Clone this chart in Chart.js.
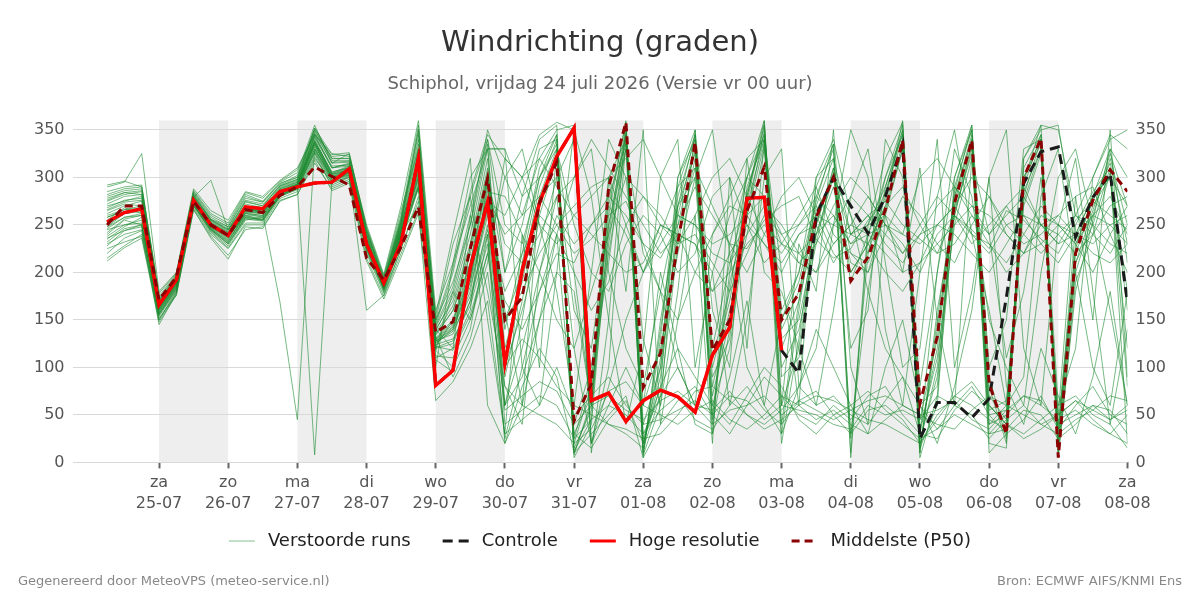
<!DOCTYPE html>
<html lang="nl">
<head>
<meta charset="utf-8">
<title>Windrichting (graden)</title>
<script src="https://cdn.jsdelivr.net/npm/chart.js@4.4.1/dist/chart.umd.min.js"></script>
<style>
    html, body { margin: 0; padding: 0; background: #fff; }
    #wrap { position: relative; width: 1200px; height: 600px; }
    .voet { position: absolute; top: 573px; font: 13px 'DejaVu Sans', sans-serif; color: #888; }
    #voetL { left: 18px; }
    #voetR { right: 18px; }
</style>
</head>
<body>
<div id="wrap">
    <canvas id="chartWind"></canvas>
    <div class="voet" id="voetL">Gegenereerd door MeteoVPS (meteo-service.nl)</div>
    <div class="voet" id="voetR">Bron: ECMWF AIFS/KNMI Ens</div>
</div>
<script>
'use strict';

/* ── Tijdas: dagen vanaf za 25-07 00 uur, stappen van 6 uur ── */
var START_DAG = -0.75;          // vr 24-07 06 uur
var STAP_DAG  = 0.25;
var TICK_DAGEN = [0, 1, 2, 3, 4, 5, 6, 7, 8, 9, 10, 11, 12, 13, 14];
var TICK_DAGNAMEN = ['za', 'zo', 'ma', 'di', 'wo', 'do', 'vr', 'za', 'zo', 'ma', 'di', 'wo', 'do', 'vr', 'za'];
var TICK_DATUMS = ['25-07', '26-07', '27-07', '28-07', '29-07', '30-07', '31-07', '01-08',
                   '02-08', '03-08', '04-08', '05-08', '06-08', '07-08', '08-08'];
var GRIJZE_DAGEN = [0, 2, 4, 6, 8, 10, 12];   // begin van gearceerde dagen
var Y_TICKS = [0, 50, 100, 150, 200, 250, 300, 350];

/* ── Hoge resolutie (tot ma 03-08 00 uur) ── */
var HOGE_RES = [253, 263, 267, 166, 192, 276, 250, 239, 269, 267, 285, 290, 294, 295, 309, 230,
                189, 231, 320, 81, 97, 205, 274, 104, 202, 273, 322, 352, 65, 73, 43, 65,
                76, 69, 53, 113, 142, 278, 279, 118];

/* ── Controle ── */
var CONTROLE = [253, 263, 267, 166, 192, 276, 250, 239, 269, 267, 285, 290, 294, 295, 309, 230,
                189, 231, 320, 81, 97, 205, 274, 104, 202, 273, 322, 352, 65, 73, 43, 65,
                76, 69, 53, 113, 142, 278, 279, 118, 94, 260, 300, 270, 241, 280, 335, 25,
                63, 63, 47, 67, 174, 294, 327, 332, 237, 279, 304, 168];

/* ── Middelste (P50) ── */
var P50 = [250, 270, 270, 171, 195, 275, 250, 239, 266, 263, 281, 290, 311, 301, 292, 215,
           192, 227, 269, 137, 148, 225, 299, 150, 174, 273, 316, 44, 83, 290, 358, 79,
           115, 231, 337, 118, 150, 265, 311, 150, 178, 258, 300, 191, 216, 266, 339, 62,
           132, 273, 339, 83, 30, 300, 341, 5, 220, 276, 308, 285];

/* ── Verstoorde runs (ensembleleden) ── */
var LID_01 = [262,270,275,160,185,278,250,240,270,262,288,295,340,305,312,232,185,245,310,125,140,190,290,
              150,200,290,340,10,60,230,350,20,90,250,330,40,140,280,355,60,120,250,310,30,180,290,345,15,140,270,335,40,60,280,340,10,200,260,320,250];
var LID_02 = [240,255,250,150,180,270,245,230,258,255,280,290,345,310,315,240,180,230,330,110,120,160,300,
              40,55,70,60,25,45,60,50,30,55,70,45,35,60,80,55,40,65,75,50,30,55,60,45,20,50,70,60,45,35,55,50,25,40,60,55,30];
var LID_03 = [275,282,285,170,195,282,255,245,275,270,292,300,350,320,320,245,190,255,340,140,170,230,320,
              110,210,300,345,20,80,270,358,15,110,280,340,100,170,270,340,140,180,260,300,200,230,270,335,30,120,280,345,60,40,300,335,20,220,270,300,180];
var LID_04 = [230,240,245,145,178,268,240,225,250,250,278,285,320,295,300,220,178,225,280,118,100,140,240,
              20,80,120,90,10,30,50,70,5,40,65,80,50,30,60,90,70,50,40,60,45,70,80,50,30,25,55,75,60,40,30,45,60,70,50,40,15];
var LID_05 = [285,290,292,175,198,285,260,250,282,275,295,305,355,315,325,248,195,260,355,150,190,250,350,
              300,260,320,350,355,20,100,340,10,130,300,350,50,200,300,360,30,160,280,330,5,240,300,355,60,80,290,350,10,30,320,350,355,240,280,330,300];
var LID_06 = [250,262,268,165,190,275,248,236,262,260,285,290,335,300,305,230,186,240,300,130,145,200,280,
              240,260,280,250,220,235,260,275,230,215,250,290,260,230,225,255,270,280,235,215,225,255,275,250,235,220,260,245,225,265,255,235,220,255,275,260,245];
var LID_07 = [215,228,240,155,182,272,243,228,255,258,282,288,325,290,298,225,182,236,295,135,160,210,300,
              200,280,300,330,250,200,180,230,260,240,200,220,280,300,250,210,230,260,290,240,220,200,240,280,260,230,210,250,280,240,220,260,250,230,200,240,270];
var LID_08 = [270,275,280,168,192,276,252,242,268,262,168,45,330,300,310,235,188,250,315,128,135,180,270,
              60,90,150,200,180,60,40,30,15,70,100,60,55,75,50,40,55,80,60,70,50,40,65,90,60,35,50,40,30,50,70,60,45,55,40,30,50];
var LID_09 = [245,250,255,162,188,274,247,238,260,255,283,290,8,295,305,228,184,238,305,122,150,195,285,
              280,240,200,150,120,180,240,300,280,250,230,260,300,320,280,240,220,250,270,230,250,280,250,220,240,270,290,260,230,210,240,270,250,230,260,280,240];
var LID_10 = [290,295,325,180,200,288,265,255,285,280,297,310,345,325,322,250,198,270,360,160,210,270,330,
              330,280,340,355,5,40,250,345,30,70,230,320,60,120,260,350,130,150,240,300,260,220,280,350,10,160,260,330,80,20,290,345,15,210,250,310,20];
var LID_11 = [255,268,262,160,186,279,297,245,268,268,286,293,338,306,310,236,190,248,320,132,90,130,200,
              60,120,200,260,230,250,270,240,200,230,260,250,220,210,240,270,250,220,200,250,280,260,230,210,240,250,270,240,220,250,260,230,210,240,260,250,230];
var LID_12 = [225,232,238,152,176,266,238,218,245,248,275,282,315,288,296,215,175,220,265,65,85,120,170,
              30,45,60,100,50,70,90,60,40,45,55,65,50,70,65,45,60,55,50,40,35,60,50,55,45,70,60,50,25,45,60,40,50,65,55,45,60];
var LID_13 = [265,272,270,166,191,275,249,239,266,264,287,294,342,310,314,234,187,244,312,138,175,240,330,
              120,190,280,330,30,70,240,355,5,150,260,335,110,180,285,345,120,170,250,305,190,240,285,340,20,100,275,340,50,55,285,330,25,230,275,315,230];
var LID_14 = [235,248,258,158,184,273,246,232,262,258,282,289,330,300,302,160,176,225,275,112,110,150,210,
              320,300,250,230,260,280,300,250,200,240,290,310,270,230,200,240,280,300,260,220,200,230,270,290,250,220,230,260,240,270,290,250,230,240,280,300,270];
var LID_15 = [280,286,288,172,196,283,256,246,276,272,291,298,350,318,318,242,192,258,345,145,200,280,340,
              250,230,300,335,15,55,300,340,40,100,240,310,80,160,240,330,150,190,270,320,240,250,290,350,5,70,265,325,70,45,300,340,5,190,240,305,80];
var LID_16 = [248,258,262,162,188,276,250,238,264,262,284,292,336,302,308,230,186,242,305,128,140,185,260,
              180,220,260,240,200,160,190,250,280,260,230,240,210,180,220,260,240,250,280,260,230,240,250,230,200,240,260,230,250,270,240,220,240,260,250,230,220];
var LID_17 = [260,266,270,164,190,277,251,240,266,265,286,293,339,304,311,233,188,246,310,130,148,205,295,
              230,210,240,280,300,340,310,280,250,220,240,230,200,260,300,280,240,210,230,270,300,280,250,240,230,250,270,300,280,250,230,240,260,280,290,240,200];
var LID_18 = [220,236,244,150,178,270,242,226,252,252,280,287,322,292,300,222,180,232,290,120,125,170,250,
              80,60,50,40,20,35,75,85,60,50,40,55,65,45,35,50,70,60,45,55,40,30,45,60,50,40,35,55,70,60,50,40,30,45,55,70,65];
var LID_19 = [272,280,282,170,194,280,254,244,272,268,290,297,348,315,316,240,190,252,330,142,180,250,335,
              90,170,270,325,25,90,210,345,60,120,220,300,70,150,275,355,100,140,230,310,220,210,260,330,45,130,285,355,30,35,270,325,35,210,265,325,270];
var LID_20 = [252,262,266,163,189,276,250,238,264,263,285,292,337,303,309,231,187,243,308,129,143,195,275,
              260,300,320,290,260,240,220,200,210,250,240,200,180,200,230,250,230,210,200,230,250,240,220,200,210,230,250,270,260,240,220,230,250,240,220,210,230];
var LID_21 = [242,256,260,158,186,274,247,235,260,259,283,290,332,298,305,228,185,240,298,126,138,175,245,
              170,140,180,220,210,250,280,260,230,180,150,200,240,270,260,230,200,240,260,250,240,230,200,180,210,250,240,220,200,230,260,250,240,220,240,270,280];
var LID_22 = [268,276,278,167,193,279,253,243,270,266,289,296,344,312,313,238,189,250,325,136,165,225,310,
              140,220,310,345,8,65,260,360,25,80,290,345,90,130,290,340,160,200,275,335,25,220,300,345,10,150,280,340,90,25,310,345,30,250,285,310,160];
var LID_23 = [238,250,252,156,183,272,245,233,258,256,281,289,328,297,303,226,183,237,292,124,130,165,230,
              25,100,180,240,30,15,45,65,20,80,120,90,60,40,70,100,80,45,30,50,60,75,55,40,25,35,60,80,50,30,45,70,35,60,80,50,40];
var LID_24 = [278,284,286,171,195,281,255,245,274,270,291,298,346,316,317,241,191,254,335,144,185,260,340,
              200,250,330,340,12,45,280,335,8,60,270,325,45,190,260,335,20,130,265,300,240,260,275,360,35,110,250,320,40,50,295,355,8,180,255,330,210];
var LID_25 = [258,266,268,164,190,277,250,240,266,264,286,293,338,304,310,233,187,245,312,131,150,210,300,
              100,160,230,300,340,20,80,150,200,250,240,230,180,220,250,230,210,240,250,210,240,260,240,220,250,280,260,240,230,200,220,250,260,240,230,250,260];
var LID_26 = [228,244,248,154,180,270,244,230,256,254,280,288,326,294,301,224,182,234,288,121,128,170,240,
              55,70,85,75,40,60,70,55,45,65,75,60,40,55,60,70,50,65,55,45,55,65,70,60,50,55,65,45,35,55,70,65,40,50,60,45,55];
var LID_27 = [266,274,276,166,192,278,252,242,268,266,288,295,343,310,312,236,188,248,318,134,160,220,305,
              60,150,260,320,40,100,220,330,10,140,270,345,120,210,280,360,90,110,240,290,210,200,265,330,25,90,260,335,55,65,275,330,40,225,280,300,120];
var LID_28 = [246,258,260,160,187,275,248,237,262,260,284,291,334,300,306,229,186,241,302,127,142,190,265,
              150,180,220,250,270,290,300,320,340,300,260,250,230,240,260,280,230,220,240,260,230,250,260,240,300,320,290,270,240,260,280,250,230,260,240,220,250];
var LID_29 = [282,288,290,173,197,284,258,248,278,274,293,302,352,320,320,244,194,256,350,148,205,285,345,
              320,300,345,358,350,10,150,355,20,100,300,340,30,230,300,345,40,170,290,335,10,250,320,358,15,60,300,350,20,15,320,355,350,260,300,340,350];
var LID_30 = [232,246,250,156,182,271,245,231,257,255,281,289,327,296,302,225,183,236,290,122,118,155,220,
              100,130,110,80,60,50,40,35,25,30,50,75,80,65,50,35,45,60,70,65,55,45,40,30,20,45,70,85,60,40,25,35,50,65,45,30,20];
var LID_31 = [258,264,266,163,189,276,250,239,265,263,285,292,336,303,308,232,186,243,290,150,230,280,150,
              30,240,100,330,200,60,300,180,350,40,150,260,20,300,120,340,60,230,180,350,100,40,260,200,310,150,60,320,240,110,180,300,50,280,150,350,90];
var LID_32 = [236,244,250,157,184,273,246,234,259,257,282,289,330,298,304,228,184,239,300,100,210,300,330,
              330,100,60,200,350,280,150,40,120,300,340,100,200,60,150,300,330,80,120,250,350,300,140,60,200,340,100,180,300,350,120,60,250,320,180,40,140];
var LID_33 = [292,296,290,178,199,286,262,252,284,278,296,308,346,322,324,246,196,265,330,155,240,320,60,
              20,60,150,240,300,330,200,120,80,180,270,300,350,220,100,60,150,200,300,340,260,180,120,90,30,200,330,280,150,100,60,200,300,330,250,160,60];
var LID_34 = [212,226,236,148,176,266,236,214,248,246,276,282,318,286,294,212,172,216,262,108,95,230,300,
              160,60,280,300,160,120,250,330,220,180,100,60,240,280,320,200,180,120,60,160,280,330,210,100,120,280,350,240,160,60,90,280,330,200,100,60,180];
var LID_35 = [276,284,282,169,193,280,256,248,280,274,294,300,352,324,326,244,192,252,350,118,180,150,220,
              300,330,250,180,60,200,340,300,130,60,180,350,160,100,320,340,200,60,300,320,120,160,340,300,80,200,300,355,100,150,330,340,60,120,300,345,330];
var LID_36 = [248,262,264,161,187,275,249,237,263,262,284,291,334,301,307,230,186,241,270,140,120,260,180,
              80,40,200,280,120,20,60,100,60,200,120,40,30,90,170,60,30,80,140,100,60,30,100,150,60,20,80,160,300,80,40,120,70,30,90,180,60];

var LEDEN = [LID_01, LID_02, LID_03, LID_04, LID_05, LID_06, LID_07, LID_08, LID_09, LID_10,
             LID_11, LID_12, LID_13, LID_14, LID_15, LID_16, LID_17, LID_18, LID_19, LID_20,
             LID_21, LID_22, LID_23, LID_24, LID_25, LID_26, LID_27, LID_28, LID_29, LID_30,
             LID_31, LID_32, LID_33, LID_34, LID_35, LID_36];

/* ── Utilitaires ── */
function naarPunten(reeks) {
    return reeks.map(function (v, i) {
        return { x: START_DAG + i * STAP_DAG, y: v };
    });
}

/* Grijze dagvlakken achter het raster */
var dagVlakken = {
    id: 'dagVlakken',
    beforeDraw: function (chart) {
        var ctx = chart.ctx, area = chart.chartArea, sx = chart.scales.x;
        ctx.save();
        ctx.fillStyle = '#eeeeee';
        GRIJZE_DAGEN.forEach(function (d) {
            var x0 = sx.getPixelForValue(d);
            var x1 = sx.getPixelForValue(d + 1);
            ctx.fillRect(x0, area.top, x1 - x0, area.bottom - area.top);
        });
        ctx.restore();
    }
};

/* Legenda onderaan: lijnstukje + tekst, gecentreerd */
var legendaOnder = {
    id: 'legendaOnder',
    afterDraw: function (chart) {
        var ctx = chart.ctx;
        var ds = chart.data.datasets;
        var items = [ds[3], ds[2], ds[1], ds[0]];   // runs, controle, hoge res, P50
        var lijnW = 26, tussen = 13, gat = 32, y = 541;
        ctx.save();
        ctx.font = "18px 'DejaVu Sans', sans-serif";
        ctx.textBaseline = 'middle';
        var totaal = 0;
        items.forEach(function (it, i) {
            totaal += lijnW + tussen + ctx.measureText(it.label).width + (i ? gat : 0);
        });
        var x = 600 - totaal / 2;
        items.forEach(function (it) {
            ctx.beginPath();
            ctx.setLineDash(it.borderDash || []);
            ctx.lineWidth = it.rang === 0 ? 1 : 3;
            ctx.strokeStyle = it.rang === 0 ? 'rgba(30,140,50,0.55)' : it.borderColor;
            ctx.moveTo(x, y);
            ctx.lineTo(x + lijnW, y);
            ctx.stroke();
            ctx.setLineDash([]);
            ctx.fillStyle = '#222';
            ctx.fillText(it.label, x + lijnW + tussen, y);
            x += lijnW + tussen + ctx.measureText(it.label).width + gat;
        });
        ctx.restore();
    }
};

/* ── Datasets: bovenste eerst (index 0 wordt als laatste getekend) ── */
var datasets = [
    {
        label: 'Middelste (P50)', data: naarPunten(P50),
        borderColor: '#8b0000', borderWidth: 3, borderDash: [8, 5], rang: 3
    },
    {
        label: 'Hoge resolutie', data: naarPunten(HOGE_RES),
        borderColor: '#ff0000', borderWidth: 3.5, rang: 2
    },
    {
        label: 'Controle', data: naarPunten(CONTROLE),
        borderColor: '#1a1a1a', borderWidth: 3, borderDash: [10, 6], rang: 1
    }
];

LEDEN.forEach(function (lid, i) {
    datasets.push({
        label: 'Verstoorde runs', data: naarPunten(lid),
        borderColor: 'rgba(30,140,50,0.6)', borderWidth: 1, rang: 0, lid: i
    });
});

datasets.forEach(function (ds) {
    ds.pointRadius = 0;
    ds.pointHoverRadius = 0;
    ds.tension = 0;
    ds.fill = false;
    ds.backgroundColor = 'transparent';
});

Chart.defaults.font.family = "'DejaVu Sans', sans-serif";

var tickFont = { size: 16 };

new Chart(document.getElementById('chartWind'), {
    type: 'line',
    data: { datasets: datasets },
    plugins: [dagVlakken, legendaOnder],
    options: {
        responsive: true,
        maintainAspectRatio: false,
        animation: false,
        layout: { padding: { left: 26, right: 26, bottom: 82 } },
        scales: {
            x: {
                type: 'linear',
                min: -1.25,
                max: 14,
                afterBuildTicks: function (scale) {
                    scale.ticks = TICK_DAGEN.map(function (d) { return { value: d }; });
                },
                ticks: {
                    autoSkip: false,
                    maxRotation: 0,
                    color: '#555',
                    font: { size: 16, lineHeight: 1.3 },
                    padding: 4,
                    callback: function (v, i) { return [TICK_DAGNAMEN[i], TICK_DATUMS[i]]; }
                },
                grid: {
                    drawOnChartArea: false,
                    drawTicks: true,
                    tickLength: 6,
                    tickWidth: 2,
                    tickColor: '#666'
                },
                border: { display: false }
            },
            y: {
                position: 'left',
                min: 0,
                max: 360,
                afterBuildTicks: function (scale) {
                    scale.ticks = Y_TICKS.map(function (v) { return { value: v }; });
                },
                ticks: { color: '#555', font: tickFont, padding: 8 },
                grid: { color: '#d9d9d9', drawTicks: false },
                border: { display: false }
            },
            y2: {
                position: 'right',
                min: 0,
                max: 360,
                afterBuildTicks: function (scale) {
                    scale.ticks = Y_TICKS.map(function (v) { return { value: v }; });
                },
                ticks: { color: '#555', font: tickFont, padding: 8 },
                grid: { drawOnChartArea: false, drawTicks: false },
                border: { display: false }
            }
        },
        plugins: {
            title: {
                display: true,
                text: 'Windrichting (graden)',
                color: '#333',
                font: { size: 29, weight: 'normal' },
                padding: { top: 26, bottom: 13 }
            },
            subtitle: {
                display: true,
                text: 'Schiphol, vrijdag 24 juli 2026 (Versie vr 00 uur)',
                color: '#666',
                font: { size: 18 },
                padding: { bottom: 25 }
            },
            legend: { display: false },
            tooltip: { enabled: false }
        }
    }
});
</script>
</body>
</html>
